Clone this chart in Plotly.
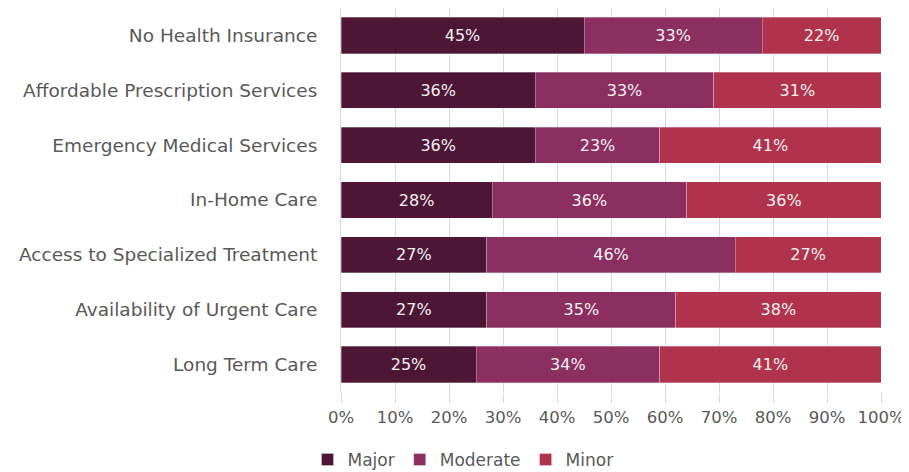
import plotly.graph_objects as go

categories = [
    "No Health Insurance",
    "Affordable Prescription Services",
    "Emergency Medical Services",
    "In-Home Care",
    "Access to Specialized Treatment",
    "Availability of Urgent Care",
    "Long Term Care",
]
major = [45, 36, 36, 28, 27, 27, 25]
moderate = [33, 33, 23, 36, 46, 35, 34]
minor = [22, 31, 41, 36, 27, 38, 41]
tick_vals = [0, 10, 20, 30, 40, 50, 60, 70, 80, 90, 100]
tick_text = [f"{v}%" for v in tick_vals]

series = [("Major", major, "#4E1635"), ("Moderate", moderate, "#8C2F60"), ("Minor", minor, "#B1324B")]

FONT = "'DejaVu Sans', sans-serif"
fig = go.Figure()
for name, vals, color in series:
    fig.add_trace(go.Bar(
        y=categories, x=vals, name=name, orientation="h",
        marker=dict(color=color, line=dict(color="rgba(255,255,255,0.6)", width=0.5)),
        text=[f"{v}%" for v in vals], textposition="inside", insidetextanchor="middle",
        textfont=dict(color="#F2F2F2", size=16, family=FONT),
        hoverinfo="skip",
    ))

fig.update_layout(
    barmode="stack", bargap=0.34,
    width=901, height=464,
    margin=dict(l=333, r=28, t=0, b=80),
    paper_bgcolor="white", plot_bgcolor="white",
    font=dict(family=FONT, size=16, color="#595959"),
    uniformtext=dict(minsize=10, mode="show"),
    legend=dict(orientation="h", xref="container", yref="container", x=0.505, xanchor="center",
                y=0.026, yanchor="middle", font=dict(size=17, color="#595959"), traceorder="normal",
                itemwidth=30),
    xaxis=dict(range=[0, 100], tickvals=tick_vals, ticktext=tick_text, showgrid=True,
               gridcolor="#D9D9D9", gridwidth=1, ticks="outside", ticklen=10, tickcolor="#D9D9D9",
               tickfont=dict(size=16.5),
               zeroline=False, showline=False, fixedrange=True),
    yaxis=dict(autorange="reversed", showline=True, linecolor="#D9D9D9", linewidth=1,
               ticks="", ticklabelstandoff=19, tickfont=dict(size=18.5), fixedrange=True),
)
fig.write_html("out.html")
